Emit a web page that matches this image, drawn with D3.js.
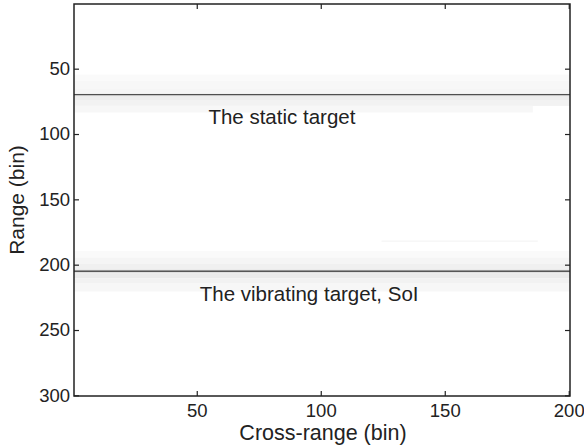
<!doctype html>
<html>
<head>
<style>
  body { margin: 0; background: #fff; }
  text { font-family: "Liberation Sans", Arial, Helvetica, sans-serif; fill: #222; }
</style>
<script src="https://d3js.org/d3.v7.min.js"></script>
</head>
<body>
<svg width="584" height="448"></svg>
<script>
// image data: horizontal spans of the range/cross-range map (darkness 0..1)
var spanRowFrom = [55, 60, 66, 69, 70, 71, 72, 75, 79,   190, 195, 200, 204, 205, 206, 207, 211, 215,  182];
var spanRowTo   = [59, 65, 68, 69, 70, 71, 74, 78, 83,   194, 199, 203, 204, 205, 206, 210, 214, 220,  182];
var spanColFrom = [1, 1, 1, 1, 1, 1, 1, 1, 1,            1, 1, 1, 1, 1, 1, 1, 1, 1,                  125];
var spanColTo   = [200, 200, 200, 200, 200, 200, 200, 200, 185,  200, 200, 200, 200, 200, 200, 200, 200, 200,  187];
var spanLevel   = [0.02, 0.03, 0.04, 0.06, 0.82, 0.10, 0.07, 0.05, 0.03,
                   0.02, 0.04, 0.06, 0.10, 0.85, 0.12, 0.08, 0.05, 0.03,  0.04];

var xTicks = [50, 100, 150, 200];
var yTicks = [50, 100, 150, 200, 250, 300];

var labelText = ["The static target", "The vibrating target, SoI"];
var labelCol  = [54.7, 51.2];
var labelRow  = [92.4, 227.5];

var svg = d3.select("svg");

var x = d3.scaleLinear().domain([0.5, 200.5]).range([74, 570]);
var y = d3.scaleLinear().domain([0.5, 300.5]).range([4, 396]);
var gray = d3.scaleLinear().domain([0, 1]).range(["#ffffff", "#000000"]);

var spans = spanLevel.map(function(v, i) {
    return { r0: spanRowFrom[i], r1: spanRowTo[i], c0: spanColFrom[i], c1: spanColTo[i], v: v };
});

svg.append("g").selectAll("rect")
    .data(spans)
    .enter().append("rect")
    .attr("x", function(d) { return x(d.c0 - 0.5); })
    .attr("width", function(d) { return x(d.c1 + 0.5) - x(d.c0 - 0.5); })
    .attr("y", function(d) { return y(d.r0 - 0.5); })
    .attr("height", function(d) { return y(d.r1 + 0.5) - y(d.r0 - 0.5); })
    .attr("fill", function(d) { return gray(d.v); });

svg.append("g").selectAll("text")
    .data(labelText)
    .enter().append("text")
    .attr("x", function(d, i) { return x(labelCol[i]); })
    .attr("y", function(d, i) { return y(labelRow[i]); })
    .attr("font-size", "20.5px")
    .text(function(d) { return d; });

// axes, ticks pointing inward
function styleAxis(g) {
    g.select(".domain").remove();
    g.selectAll("line").attr("stroke", "#222").attr("stroke-width", 1.2);
    g.selectAll("text").attr("font-size", "18.5px").attr("fill", "#222")
        .style("font-family", '"Liberation Sans", Arial, sans-serif');
}

svg.append("g")
    .attr("transform", "translate(0,396)")
    .call(d3.axisBottom(x).tickValues(xTicks).tickSizeInner(-5).tickSizeOuter(0).tickPadding(8))
    .call(styleAxis);
svg.append("g")
    .attr("transform", "translate(0,4)")
    .call(d3.axisTop(x).tickValues(xTicks).tickSizeInner(-5).tickSizeOuter(0).tickFormat(""))
    .call(styleAxis);
svg.append("g")
    .attr("transform", "translate(74,0)")
    .call(d3.axisLeft(y).tickValues(yTicks).tickSizeInner(-5).tickSizeOuter(0).tickPadding(4))
    .call(styleAxis);
svg.append("g")
    .attr("transform", "translate(570,0)")
    .call(d3.axisRight(y).tickValues(yTicks).tickSizeInner(-5).tickSizeOuter(0).tickFormat(""))
    .call(styleAxis);

svg.append("rect")
    .attr("x", 74).attr("y", 4).attr("width", 496).attr("height", 392)
    .attr("fill", "none").attr("stroke", "#222").attr("stroke-width", 1.5);

svg.append("text")
    .attr("x", 323)
    .attr("y", 440)
    .attr("text-anchor", "middle")
    .attr("font-size", "21.5px")
    .text("Cross-range (bin)");

svg.append("text")
    .attr("transform", "translate(24," + (4 + 396) / 2 + ") rotate(-90)")
    .attr("text-anchor", "middle")
    .attr("font-size", "21px")
    .text("Range (bin)");
</script>
</body>
</html>
